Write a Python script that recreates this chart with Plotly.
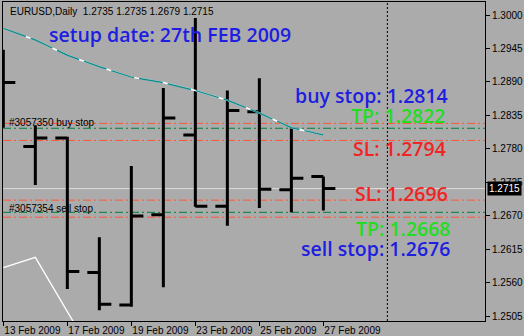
import plotly.graph_objects as go

# ---------------- data ----------------
dates = ["13 Feb 2009", "16 Feb 2009", "17 Feb 2009", "18 Feb 2009", "19 Feb 2009",
         "20 Feb 2009", "23 Feb 2009", "24 Feb 2009", "25 Feb 2009", "26 Feb 2009",
         "27 Feb 2009"]
opens  = [1.2905, 1.2784, 1.2798, 1.2577, 1.2524, 1.2672, 1.2803, 1.2686, 1.2841, 1.2713, 1.2735]
highs  = [1.2943, 1.2819, 1.2800, 1.2635, 1.2752, 1.2880, 1.2995, 1.2876, 1.2896, 1.2814, 1.2735]
lows   = [1.2815, 1.2721, 1.2550, 1.2515, 1.2521, 1.2553, 1.2685, 1.2654, 1.2683, 1.2676, 1.2679]
closes = [1.2889, 1.2798, 1.2579, 1.2525, 1.2670, 1.2831, 1.2686, 1.2843, 1.2714, 1.2732, 1.2715]

ma_teal  = [1.2978, 1.2959, 1.2934, 1.2915, 1.2898, 1.2889, 1.2876, 1.2860, 1.2839, 1.2815, 1.2803]
ma_white = [1.2585, 1.2602, 1.2513, 1.2425]

buy_stop, buy_tp, buy_sl = 1.2814, 1.2822, 1.2794
sell_stop, sell_tp, sell_sl = 1.2676, 1.2668, 1.2696
bid = 1.2715

y_ticks = [1.3000, 1.2945, 1.2890, 1.2835, 1.2780, 1.2725, 1.2670, 1.2615, 1.2560, 1.2505]
x_tick_idx = [0, 2, 4, 6, 8, 10]
x_tick_text = ["13 Feb 2009", "17 Feb 2009", "19 Feb 2009", "23 Feb 2009", "25 Feb 2009", "27 Feb 2009"]
cursor_idx = 12

header = "EURUSD,Daily  1.2735 1.2735 1.2679 1.2715"

# ---------------- figure ----------------
idx = list(range(len(dates)))
BG = "#ababab"
RED = "#ff5533"
GRN = "#00803a"

fig = go.Figure()

fig.add_trace(go.Ohlc(
    x=idx, open=opens, high=highs, low=lows, close=closes,
    increasing=dict(line=dict(color="black", width=3)),
    decreasing=dict(line=dict(color="black", width=3)),
    tickwidth=0.375, showlegend=False, hoverinfo="skip"))

fig.add_trace(go.Scatter(x=idx[:len(ma_white)], y=ma_white, mode="lines",
                         line=dict(color="white", width=1.3), showlegend=False, hoverinfo="skip"))
fig.add_trace(go.Scatter(x=idx, y=ma_teal, mode="lines",
                         line=dict(color="white", width=1.5), showlegend=False, hoverinfo="skip"))
fig.add_trace(go.Scatter(x=idx, y=ma_teal, mode="lines",
                         line=dict(color="#108c8c", width=1.5, dash="24px,5px"),
                         showlegend=False, hoverinfo="skip"))

def hline(y, color, dash, width=1):
    fig.add_shape(type="line", xref="paper", x0=0, x1=1, y0=y, y1=y, yref="y",
                  line=dict(color=color, width=width, dash=dash), layer="below")

hline(bid, "#dcdcdc", "solid")
for y in (buy_tp, buy_sl, sell_tp, sell_sl):
    hline(y, RED, "8px,3px,2px,3px")
for y in (buy_stop, sell_stop):
    hline(y, GRN, "8px,3px,2px,3px")

# cursor line
fig.add_shape(type="line", x0=cursor_idx, x1=cursor_idx, yref="paper", y0=0, y1=1,
              line=dict(color="black", width=1, dash="2px,2px"))

ann = []
ann.append(dict(x=0.01, y=1.0, xref="paper", yref="paper", text=header, showarrow=False,
                xanchor="left", yanchor="top", yshift=-2,
                font=dict(family="Liberation Sans", size=10, color="black")))
ann.append(dict(x=0.1, y=buy_tp, xref="x", yref="y", text="#3057350 buy stop", showarrow=False,
                xanchor="left", yanchor="middle", yshift=1,
                font=dict(family="Liberation Sans", size=10, color="black")))
ann.append(dict(x=0.1, y=sell_sl, xref="x", yref="y", text="#3057354 sell stop", showarrow=False,
                xanchor="left", yanchor="middle", yshift=-8,
                font=dict(family="Liberation Sans", size=10, color="black")))

BLUE = "#1e1ee0"
TXTGRN = "#22dd22"
TXTRED = "#f02424"
BIGF = "Open Sans"
big = [
    ("setup date: 27th FEB 2009", 1.40, 1.29672, BLUE, "left"),
    ("buy stop: 1.2814", 13.92, 1.28686, BLUE, "right"),
    ("TP: 1.2822", 13.87, 1.28358, TXTGRN, "right"),
    ("SL: 1.2794", 13.87, 1.27811, TXTRED, "right"),
    ("SL: 1.2696", 13.92, 1.27077, TXTRED, "right"),
    ("TP: 1.2668", 14.02, 1.26502, TXTGRN, "right"),
    ("sell stop: 1.2676", 14.00, 1.26163, BLUE, "right"),
]
for t, x, y, c, a in big:
    ann.append(dict(x=x, y=y, xref="x", yref="y", text=t, showarrow=False,
                    xanchor=a, yanchor="middle", borderpad=0,
                    font=dict(family=BIGF, size=19.5, color=c, weight=600)))

# bid price box on right axis
ann.append(dict(x=1.0, y=bid, xref="paper", yref="y", text=f"{bid:.4f}", showarrow=False,
                xanchor="left", yanchor="middle", xshift=2, bgcolor="black", borderpad=1,
                font=dict(family="Liberation Sans", size=10, color="white")))

fig.update_layout(
    width=524, height=336,
    margin=dict(l=3, r=39, t=2, b=15),
    paper_bgcolor=BG, plot_bgcolor=BG,
    showlegend=False,
    annotations=ann,
    xaxis=dict(range=[-0.01, 15.05], tickvals=x_tick_idx, ticktext=x_tick_text,
               showgrid=False, zeroline=False, rangeslider=dict(visible=False),
               showline=True, linecolor="black", linewidth=1, mirror=True,
               ticks="outside", ticklen=4, tickcolor="black", tickangle=0,
               automargin=False,
               ticklabelposition="outside right",
               tickfont=dict(family="Liberation Sans", size=10, color="black")),
    yaxis=dict(range=[1.249754, 1.302135], side="right", tickvals=y_ticks,
               ticktext=[f"{v:.4f}" for v in y_ticks],
               showgrid=False, zeroline=False, automargin=False,
               showline=True, linecolor="black", linewidth=1, mirror=True,
               ticks="outside", ticklen=4, tickcolor="black",
               tickfont=dict(family="Liberation Sans", size=10, color="black")),
)

fig.write_html("out.html")
